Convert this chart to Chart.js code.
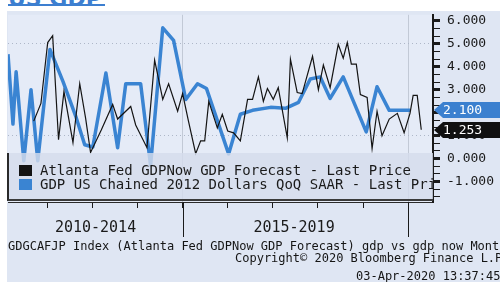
<!DOCTYPE html>
<html lang="en">
<head>
<meta charset="utf-8">
<title>US GDP</title>
<script src="https://cdn.jsdelivr.net/npm/chart.js@4.4.1/dist/chart.umd.min.js"></script>
<style>
    html, body { margin: 0; padding: 0; background: #ffffff; }
    .frame { position: relative; width: 500px; height: 282px; overflow: hidden; background: #ffffff; }
    .panel { position: absolute; left: 7px; top: 11px; right: 0; bottom: 0; background: #dfe6f3; }
    .title { position: absolute; left: 8px; top: -14px; width: 97px; height: 18px; line-height: 18px; border-bottom: 2px solid #3d7fd0; color: #3d7fd0; font: bold 22px "DejaVu Sans", sans-serif; }
    #gdpChart { position: absolute; left: 0; top: 0; }
    .legend { position: absolute; left: 7px; top: 153px; width: 426px; height: 48px; box-sizing: border-box; padding: 10px 0 0 10px; background: rgba(212, 220, 235, 0.82); border-left: 2px solid #2a2a2a; border-bottom: 2px solid #3a3a3a; overflow: hidden; white-space: nowrap; font: 14px "DejaVu Sans Mono", monospace; color: #1a1a1a; }
    .legend-row { height: 14px; line-height: 14px; }
    .legend-swatch { display: inline-block; width: 13px; height: 11px; margin-right: 8px; vertical-align: -1px; }
    .foot { position: absolute; white-space: nowrap; font: 12px "DejaVu Sans Mono", monospace; color: #151515; line-height: 12px; }
</style>
</head>
<body>
<div class="frame">
    <div class="panel"></div>
    <div class="title">US GDP</div>
    <canvas id="gdpChart" width="500" height="282"></canvas>
    <div class="legend" id="legend"></div>
    <div class="foot" style="left:8px; top:240px;">GDGCAFJP Index (Atlanta Fed GDPNow GDP Forecast) gdp vs gdp now  Monthly</div>
    <div class="foot" style="left:235px; top:252px;">Copyright© 2020 Bloomberg Finance L.P.</div>
    <div class="foot" style="left:356px; top:270px;">03-Apr-2020 13:37:45</div>
</div>
<script>
// Atlanta Fed GDPNow (black, thin)
const gdpNowDates = [2011.70, 2011.86, 2012.01, 2012.12, 2012.25, 2012.37, 2012.57, 2012.72, 2012.85, 2012.96,
    2013.20, 2013.45, 2013.56, 2013.85, 2013.96, 2014.21, 2014.38, 2014.56, 2014.69, 2014.89,
    2015.00, 2015.13, 2015.29, 2015.40, 2015.49, 2015.58, 2015.77, 2015.88, 2016.00, 2016.13,
    2016.28, 2016.44, 2016.55, 2016.68, 2016.79, 2016.88, 2017.01, 2017.12, 2017.32, 2017.39,
    2017.54, 2017.65, 2017.88, 2018.01, 2018.12, 2018.27, 2018.45, 2018.56, 2018.65, 2018.74,
    2018.85, 2018.94, 2019.09, 2019.20, 2019.31, 2019.42, 2019.58, 2019.76, 2019.91, 2020.04,
    2020.11, 2020.20, 2020.29];
const gdpNowValues = [1.63, 2.40, 5.06, 5.36, 0.82, 2.92, 0.69, 3.26, 1.76, 0.26,
    1.25, 2.36, 1.72, 2.27, 1.46, 0.47, 4.29, 2.58, 3.26, 2.06,
    2.83, 1.63, 0.21, 0.77, 0.77, 2.49, 1.33, 1.93, 1.20, 1.12,
    0.77, 2.58, 2.58, 3.56, 2.49, 3.05, 2.58, 3.09, 0.90, 4.33,
    2.88, 2.83, 4.46, 3.00, 4.08, 3.09, 4.98, 4.38, 5.06, 4.12,
    4.12, 2.79, 2.66, 0.43, 2.06, 0.99, 1.72, 1.97, 1.12, 1.97,
    2.75, 2.75, 1.253];

// GDP QoQ SAAR (blue, thick)
const gdpDates = [2011.13, 2011.24, 2011.31, 2011.48, 2011.64, 2011.79, 2012.06, 2012.35, 2012.63, 2012.83,
    2013.01, 2013.30, 2013.56, 2013.74, 2014.07, 2014.29, 2014.56, 2014.80, 2015.07, 2015.33,
    2015.53, 2016.02, 2016.28, 2016.55, 2016.95, 2017.28, 2017.57, 2017.83, 2018.05, 2018.27,
    2018.56, 2019.07, 2019.31, 2019.58, 2020.04];
const gdpValues = [4.55, 1.50, 3.78, -0.10, 3.00, -0.10, 4.76, 3.35, 1.85, 0.60,
    0.50, 3.73, 0.47, 3.26, 3.26, -0.30, 5.70, 5.15, 2.57, 3.26,
    3.05, 0.20, 1.93, 2.10, 2.23, 2.19, 2.45, 3.47, 3.56, 2.62,
    3.56, 1.16, 3.13, 2.10, 2.10];

const seriesLabels = ['Atlanta Fed GDPNow GDP Forecast - Last Price', 'GDP US Chained 2012 Dollars QoQ SAAR - Last Price'];
const seriesColors = ['#141414', '#3a84d2'];

const yMajorTicks = [-1, 0, 1, 2, 3, 4, 5, 6];
const yGridLevels = [1, 5];
const yearTicks = [2012, 2013, 2014, 2015, 2016, 2017, 2018, 2019, 2020];
const periodSeparators = [2015, 2020];
const periodCenters = [2013.07, 2017.47];
const periodLabels = ['2010-2014', '2015-2019'];

const X_MIN = 2011.13, X_MAX = 2020.55;
const Y_MIN = -1.9, Y_MAX = 6.27;

function buildYTicks() {
    const out = [];
    for (let v = -2; v <= 6; v++) {
        [0, 1 / 3, 2 / 3].forEach(f => {
            const t = v + f;
            if (t >= Y_MIN && t <= Y_MAX) out.push({ value: f === 0 ? v : t });
        });
    }
    return out;
}

const decorPlugin = {
    id: 'decor',
    beforeDraw(chart) {
        const { ctx, chartArea: a } = chart;
        ctx.save();
        ctx.fillStyle = '#e5ebf7';
        ctx.fillRect(a.left, a.top, a.right - a.left, a.bottom - a.top);
        ctx.restore();
    },
    afterDraw(chart) {
        const { ctx, chartArea: a, scales } = chart;
        ctx.save();
        // long period ticks under the axis
        ctx.strokeStyle = '#1a1a1a';
        ctx.lineWidth = 1;
        periodSeparators.forEach(v => {
            const px = Math.round(scales.x.getPixelForValue(v)) + 0.5;
            ctx.beginPath();
            ctx.moveTo(px, a.bottom);
            ctx.lineTo(px, a.bottom + 35);
            ctx.stroke();
        });

        // last value tags on the right axis
        const tags = [
            { value: gdpValues[gdpValues.length - 1], fill: '#3b80cf' },
            { value: gdpNowValues[gdpNowValues.length - 1], fill: '#111111' }
        ];
        ctx.font = '13px "DejaVu Sans Mono", monospace';
        ctx.textBaseline = 'middle';
        tags.forEach(tag => {
            const py = Math.round(scales.y.getPixelForValue(tag.value));
            const x0 = a.right + 1;
            ctx.fillStyle = tag.fill;
            ctx.beginPath();
            ctx.moveTo(x0, py);
            ctx.lineTo(x0 + 9, py - 8);
            ctx.lineTo(500, py - 8);
            ctx.lineTo(500, py + 8);
            ctx.lineTo(x0 + 9, py + 8);
            ctx.closePath();
            ctx.fill();
            ctx.fillStyle = '#ffffff';
            ctx.fillText(tag.value.toFixed(3), a.right + 10, py + 1);
        });
        ctx.restore();
    }
};

const ctxChart = document.getElementById('gdpChart');

new Chart(ctxChart, {
    type: 'line',
    data: {
        datasets: [
            {
                label: seriesLabels[0],
                data: gdpNowDates.map((d, i) => ({ x: d, y: gdpNowValues[i] })),
                borderColor: seriesColors[0],
                borderWidth: 1.2,
                pointRadius: 0,
                tension: 0
            },
            {
                label: seriesLabels[1],
                data: gdpDates.map((d, i) => ({ x: d, y: gdpValues[i] })),
                borderColor: seriesColors[1],
                borderWidth: 3.5,
                pointRadius: 0,
                tension: 0,
                borderJoinStyle: 'round'
            }
        ]
    },
    options: {
        responsive: false,
        animation: false,
        devicePixelRatio: 1,
        layout: { padding: { left: 8, top: 12, right: 0, bottom: 40 } },
        plugins: { legend: { display: false }, tooltip: { enabled: false } },
        scales: {
            x: {
                type: 'linear',
                min: X_MIN,
                max: X_MAX,
                afterBuildTicks: s => { s.ticks = [...yearTicks, ...periodCenters].map(v => ({ value: v })); },
                afterFit: s => { s.height = 40; },
                grid: {
                    color: c => (c.tick && periodSeparators.includes(c.tick.value)) ? '#c2c9d6' : 'rgba(0,0,0,0)',
                    tickColor: c => (c.tick && yearTicks.includes(c.tick.value)) ? '#1a1a1a' : 'rgba(0,0,0,0)',
                    tickLength: 6,
                    lineWidth: 1
                },
                border: { display: true, color: '#2a2a2a', width: 1 },
                ticks: {
                    autoSkip: false,
                    maxRotation: 0,
                    padding: 11,
                    color: '#1a1a1a',
                    font: { family: 'DejaVu Sans Mono', size: 15 },
                    callback: value => {
                        const i = periodCenters.indexOf(value);
                        return i >= 0 ? periodLabels[i] : '';
                    }
                }
            },
            y: {
                position: 'right',
                min: Y_MIN,
                max: Y_MAX,
                afterBuildTicks: s => { s.ticks = buildYTicks(); },
                afterFit: s => { s.width = 67; },
                grid: {
                    color: c => (c.tick && yGridLevels.includes(c.tick.value)) ? '#aeb7c8' : 'rgba(0,0,0,0)',
                    tickColor: '#1a1a1a',
                    tickWidth: c => (c.tick && yMajorTicks.includes(c.tick.value)) ? 3 : 1,
                    tickLength: 7,
                    lineWidth: 1
                },
                border: { display: true, color: '#1a1a1a', width: 2, dash: [1, 3] },
                ticks: {
                    autoSkip: false,
                    padding: 7,
                    color: '#1a1a1a',
                    font: { family: 'DejaVu Sans Mono', size: 13 },
                    callback: value => yMajorTicks.includes(value) ? value.toFixed(3) : ''
                }
            }
        }
    },
    plugins: [decorPlugin]
});

const legendEl = document.getElementById('legend');
seriesLabels.forEach((label, i) => {
    const row = document.createElement('div');
    row.className = 'legend-row';
    row.innerHTML = `<span class="legend-swatch" style="background:${seriesColors[i]}"></span>${label}`;
    legendEl.appendChild(row);
});
</script>
</body>
</html>
